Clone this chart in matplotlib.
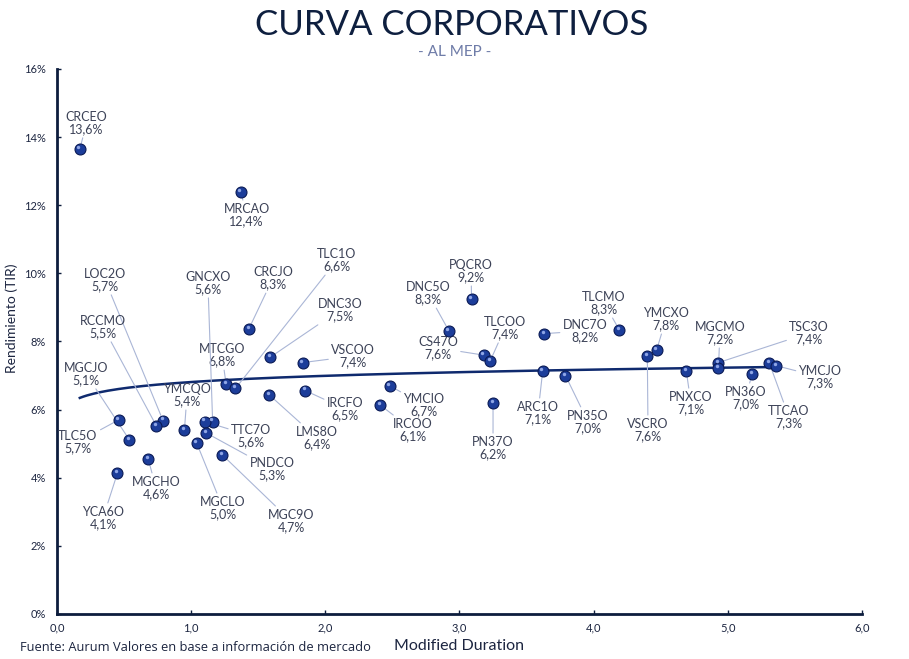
import numpy as np
import matplotlib
matplotlib.use("Agg")
import matplotlib.pyplot as plt
from matplotlib.ticker import FuncFormatter

plt.rcParams['font.family'] = ['Lato', 'DejaVu Sans']

# ---------------- data ----------------
tickers = ["CRCEO", "MRCAO", "CRCJO", "DNC3O", "VSCOO", "MTCGO", "TLC1O", "LMS8O",
           "IRCFO", "YMCIO", "IRCOO", "GNCXO", "TTC7O", "PNDCO", "MGC9O", "MGCLO",
           "YMCQO", "LOC2O", "RCCMO", "MGCJO", "TLC5O", "MGCHO", "YCA6O", "PQCRO",
           "DNC5O", "CS47O", "TLCOO", "DNC7O", "ARC1O", "PN35O", "PN37O", "TLCMO",
           "YMCXO", "VSCRO", "PNXCO", "TSC3O", "MGCMO", "PN36O", "TTCAO", "YMCJO"]
duration = [0.17, 1.37, 1.43, 1.59, 1.83, 1.26, 1.33, 1.58,
            1.85, 2.48, 2.41, 1.16, 1.10, 1.11, 1.23, 1.04,
            0.95, 0.79, 0.74, 0.54, 0.46, 0.68, 0.45, 3.09,
            2.92, 3.18, 3.23, 3.63, 3.62, 3.79, 3.25, 4.19,
            4.47, 4.40, 4.69, 4.93, 4.93, 5.18, 5.31, 5.36]
tir = [13.65, 12.39, 8.37, 7.54, 7.38, 6.76, 6.62, 6.44,
       6.56, 6.70, 6.13, 5.65, 5.65, 5.32, 4.68, 5.03,
       5.41, 5.68, 5.53, 5.11, 5.70, 4.55, 4.13, 9.25,
       8.32, 7.60, 7.44, 8.23, 7.13, 7.00, 6.19, 8.35,
       7.76, 7.58, 7.14, 7.38, 7.22, 7.05, 7.36, 7.29]
tir_labels = ["13,6%", "12,4%", "8,3%", "7,5%", "7,4%", "6,8%", "6,6%", "6,4%",
              "6,5%", "6,7%", "6,1%", "5,6%", "5,6%", "5,3%", "4,7%", "5,0%",
              "5,4%", "5,7%", "5,5%", "5,1%", "5,7%", "4,6%", "4,1%", "9,2%",
              "8,3%", "7,6%", "7,4%", "8,2%", "7,1%", "7,0%", "6,2%", "8,3%",
              "7,8%", "7,6%", "7,1%", "7,4%", "7,2%", "7,0%", "7,3%", "7,3%"]
# logarithmic trend: y = a + b*ln(x)
trend_a = 6.81
trend_b = 0.263

x_ticks = [0, 1, 2, 3, 4, 5, 6]
y_ticks = [0, 2, 4, 6, 8, 10, 12, 14, 16]

# ---------------- layout (label positions, data coords) ----------------
label_pos = {
    "CRCEO": (0.221, 14.42), "MRCAO": (1.414, 11.71), "LOC2O": (0.358, 9.81),
    "RCCMO": (0.343, 8.43), "MGCJO": (0.216, 7.05), "TLC5O": (0.157, 5.05),
    "YCA6O": (0.343, 2.82), "MGCHO": (0.738, 3.70), "YMCQO": (0.969, 6.43),
    "GNCXO": (1.125, 9.72), "MTCGO": (1.230, 7.60), "TTC7O": (1.446, 5.23),
    "PNDCO": (1.602, 4.26), "MGCLO": (1.237, 3.11), "MGC9O": (1.744, 2.73),
    "CRCJO": (1.610, 9.86), "TLC1O": (2.087, 10.39), "DNC3O": (2.109, 8.93),
    "VSCOO": (2.206, 7.57), "IRCFO": (2.147, 6.02), "LMS8O": (1.938, 5.17),
    "YMCIO": (2.735, 6.14), "IRCOO": (2.653, 5.40), "PQCRO": (3.086, 10.07),
    "DNC5O": (2.765, 9.42), "CS47O": (2.840, 7.81), "TLCOO": (3.339, 8.40),
    "DNC7O": (3.935, 8.31), "TLCMO": (4.077, 9.13), "ARC1O": (3.585, 5.90),
    "PN35O": (3.958, 5.64), "PN37O": (3.250, 4.87), "YMCXO": (4.539, 8.66),
    "VSCRO": (4.405, 5.40), "PNXCO": (4.725, 6.19), "MGCMO": (4.941, 8.25),
    "TSC3O": (5.605, 8.25), "PN36O": (5.135, 6.34), "TTCAO": (5.456, 5.78),
    "YMCJO": (5.687, 6.96),
}

navy = "#0d1d3d"
point_color = "#1c3d9a"
label_color = "#3c4257"
leader_color = "#aab6d6"

fig = plt.figure(figsize=(9.09, 6.59), dpi=100)
ax = fig.add_axes([0.0627, 0.0683, 0.8856, 0.827])

# trend line
tx = np.linspace(min(duration), max(duration), 200)
ax.plot(tx, trend_a + trend_b * np.log(tx), color="#0f2a6e", lw=1.8, zorder=2)

# points
ax.scatter(duration, tir, s=62, color=point_color, edgecolors="#0a1a55",
           linewidths=0.8, zorder=4)
ax.scatter(np.array(duration) - 0.01, np.array(tir) + 0.06, s=6,
           color="#8fa6e6", linewidths=0, zorder=5)

for t, x, y, lab in zip(tickers, duration, tir, tir_labels):
    lx, ly = label_pos[t]
    props = dict(arrowstyle='-', color=leader_color, lw=0.8, shrinkA=0, shrinkB=4)
    ax.annotate(f"{t}\n{lab}", xy=(x, y), xytext=(lx, ly), textcoords='data',
                ha='center', va='center', fontsize=9, color=label_color,
                linespacing=1.05, arrowprops=props, zorder=3)

ax.set_xlim(0, 6)
ax.set_ylim(0, 16)
ax.set_xticks(x_ticks)
ax.set_yticks(y_ticks)
ax.xaxis.set_major_formatter(FuncFormatter(lambda v, p: f"{v:.1f}".replace('.', ',')))
ax.yaxis.set_major_formatter(FuncFormatter(lambda v, p: f"{v:.0f}%"))
ax.tick_params(axis='both', direction='in', length=3, width=1, color=navy,
               labelsize=8, labelcolor="#1c2540")
ax.tick_params(axis='x', pad=6)
ax.tick_params(axis='y', pad=8)
for s in ["top", "right"]:
    ax.spines[s].set_visible(False)
for s in ["left", "bottom"]:
    ax.spines[s].set_color(navy)
    ax.spines[s].set_linewidth(2)

fig.text(0.497, 0.962, "CURVA CORPORATIVOS", ha='center', va='center',
         fontsize=25, color="#0e1f3f")
fig.text(0.5, 0.921, "- AL MEP -", ha='center', va='center',
         fontsize=11, color="#6f7ca8")
fig.text(0.013, 0.517, "Rendimiento (TIR)", rotation=90, ha='center', va='center',
         fontsize=10, color="#1c2540")
fig.text(0.505, 0.019, "Modified Duration", ha='center', va='center',
         fontsize=11.5, color="#1c2540")
fig.text(0.022, 0.017, "Fuente: Aurum Valores en base a información de mercado",
         ha='left', va='center', fontsize=9.3, color="#1c2540",
         family=['Open Sans', 'DejaVu Sans'])

fig.savefig("out.png", dpi=100)
